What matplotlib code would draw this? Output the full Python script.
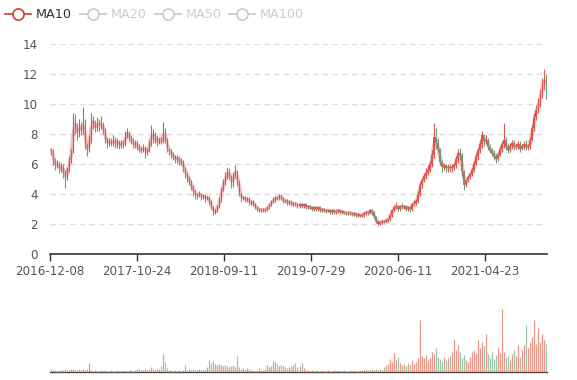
import numpy as np
import pandas as pd
import matplotlib
matplotlib.use("Agg")
import matplotlib.pyplot as plt
from matplotlib.lines import Line2D

# weekly candles (one per 5 trading days)
close = [6.9, 6.2, 5.9, 6.0, 5.7, 5.8, 5.5, 5.0, 5.6, 6.3,
         6.8, 8.9, 8.4, 8.0, 8.6, 8.2, 8.9, 7.2, 6.9, 7.6,
         9.0, 8.6, 8.4, 8.8, 8.5, 8.7, 8.3, 7.6, 7.4, 7.5,
         7.4, 7.6, 7.3, 7.5, 7.2, 7.4, 7.3, 7.9, 8.1, 7.7,
         7.5, 7.3, 7.4, 7.1, 7.0, 6.9, 7.1, 6.8, 6.9, 7.4,
         8.2, 7.6, 7.8, 7.4, 7.6, 7.5, 8.3, 7.6, 7.0, 6.9,
         6.6, 6.5, 6.3, 6.4, 6.1, 6.2, 5.7, 5.4, 5.1, 4.8,
         4.5, 4.2, 4.0, 3.9, 4.0, 3.8, 3.9, 3.7, 3.8, 3.5,
         3.1, 2.8, 2.9, 3.2, 3.6, 4.3, 4.8, 5.1, 5.5, 5.2,
         4.6, 5.3, 5.5, 4.8, 4.0, 3.7, 3.8, 3.6, 3.7, 3.4,
         3.5, 3.3, 3.1, 3.0, 2.9, 3.0, 2.9, 3.0, 3.1, 3.3,
         3.5, 3.6, 3.8, 3.7, 3.9, 3.7, 3.5, 3.6, 3.4, 3.5,
         3.3, 3.4, 3.3, 3.2, 3.3, 3.2, 3.3, 3.1, 3.2, 3.1,
         3.0, 3.1, 3.0, 3.1, 2.9, 3.0, 2.9, 2.85, 2.9, 2.8,
         2.9, 2.8, 2.85, 2.9, 2.8, 2.85, 2.75, 2.7, 2.75, 2.7,
         2.65, 2.7, 2.6, 2.65, 2.55, 2.6, 2.7, 2.8, 2.75, 2.9,
         2.8, 2.5, 2.2, 2.0, 2.1, 2.2, 2.15, 2.25, 2.3, 2.6,
         2.9, 3.1, 3.2, 3.0, 3.2, 3.1, 3.2, 3.0, 3.1, 3.0,
         3.3, 3.4, 3.5, 4.0, 4.6, 4.9, 5.2, 5.4, 5.6, 6.0,
         6.6, 7.8, 7.4, 7.0, 6.1, 5.8, 5.9, 5.7, 5.8, 5.7,
         5.8, 5.9, 6.3, 6.7, 6.6, 5.5, 4.6, 4.9, 5.1, 5.3,
         5.6, 6.0, 6.5, 6.9, 7.3, 7.9, 7.5, 7.6, 7.1, 6.9,
         6.7, 6.5, 6.3, 6.6, 7.0, 7.3, 7.6, 7.1, 6.9, 7.2,
         7.4, 7.1, 7.2, 7.3, 7.0, 7.2, 7.3, 7.1, 7.2, 7.6,
         8.4, 9.1, 9.6, 10.0, 10.6, 11.2, 11.8, 11.2]

high = [7.1, 7.0, 6.4, 6.3, 6.2, 6.1, 6.0, 5.6, 5.8, 6.5,
        7.0, 9.4, 9.3, 8.7, 9.0, 8.8, 9.8, 9.0, 7.4, 7.9,
        9.4, 9.2, 8.9, 9.1, 9.0, 9.2, 8.8, 8.4, 7.8, 7.7,
        7.7, 7.9, 7.8, 7.7, 7.6, 7.6, 7.6, 8.2, 8.4, 8.2,
        7.9, 7.7, 7.6, 7.6, 7.3, 7.2, 7.3, 7.2, 7.1, 7.6,
        8.6, 8.3, 8.1, 7.9, 7.8, 7.8, 8.8, 8.4, 7.7, 7.1,
        7.0, 6.8, 6.6, 6.6, 6.5, 6.4, 6.3, 5.8, 5.5, 5.2,
        4.9, 4.6, 4.3, 4.1, 4.2, 4.1, 4.0, 4.0, 3.9, 3.9,
        3.6, 3.2, 3.0, 3.3, 3.8, 4.5, 5.0, 5.5, 5.8, 5.7,
        5.3, 5.5, 5.9, 5.6, 4.9, 4.1, 3.9, 3.9, 3.8, 3.8,
        3.6, 3.6, 3.4, 3.2, 3.1, 3.1, 3.1, 3.1, 3.2, 3.4,
        3.6, 3.8, 3.9, 3.9, 4.0, 4.0, 3.8, 3.7, 3.7, 3.6,
        3.6, 3.5, 3.5, 3.4, 3.4, 3.4, 3.4, 3.4, 3.3, 3.3,
        3.2, 3.2, 3.2, 3.2, 3.2, 3.1, 3.1, 3.0, 3.0, 3.0,
        3.0, 3.0, 2.95, 3.0, 3.0, 2.95, 2.9, 2.85, 2.85, 2.85,
        2.8, 2.8, 2.75, 2.75, 2.7, 2.7, 2.8, 2.9, 2.9, 3.0,
        3.0, 2.85, 2.55, 2.25, 2.2, 2.3, 2.3, 2.35, 2.4, 2.7,
        3.0, 3.3, 3.5, 3.3, 3.3, 3.4, 3.3, 3.3, 3.2, 3.2,
        3.4, 3.6, 3.7, 4.2, 4.8, 5.1, 5.4, 5.7, 5.9, 6.2,
        6.9, 8.7, 8.4, 7.7, 7.1, 6.3, 6.1, 6.0, 6.0, 6.0,
        6.0, 6.1, 6.5, 7.0, 7.1, 6.7, 5.6, 5.0, 5.3, 5.5,
        5.8, 6.2, 6.7, 7.1, 7.6, 8.2, 8.0, 7.9, 7.7, 7.3,
        7.1, 6.9, 6.7, 6.8, 7.2, 7.5, 8.7, 7.8, 7.3, 7.4,
        7.6, 7.6, 7.4, 7.5, 7.5, 7.3, 7.5, 7.6, 7.3, 7.8,
        8.6, 9.4, 9.9, 10.4, 11.0, 11.7, 12.3, 12.0]

low = [6.6, 5.9, 5.6, 5.7, 5.4, 5.5, 5.1, 4.4, 4.9, 5.5,
       6.1, 6.7, 8.0, 7.6, 7.8, 7.9, 8.0, 7.0, 6.5, 6.8,
       7.4, 8.3, 8.1, 8.2, 8.2, 8.3, 8.0, 7.4, 7.1, 7.2,
       7.2, 7.2, 7.1, 7.1, 7.0, 7.1, 7.1, 7.2, 7.7, 7.5,
       7.3, 7.1, 7.1, 6.9, 6.8, 6.7, 6.8, 6.4, 6.6, 6.8,
       7.2, 7.4, 7.4, 7.2, 7.3, 7.3, 7.4, 7.4, 6.8, 6.6,
       6.4, 6.3, 6.1, 6.1, 5.9, 5.9, 5.5, 5.1, 4.8, 4.6,
       4.3, 3.9, 3.7, 3.7, 3.8, 3.6, 3.7, 3.5, 3.6, 3.3,
       3.0, 2.6, 2.7, 2.8, 3.1, 3.5, 4.2, 4.6, 5.0, 5.0,
       4.4, 4.5, 5.1, 4.6, 3.9, 3.5, 3.6, 3.5, 3.5, 3.3,
       3.3, 3.2, 3.0, 2.9, 2.8, 2.8, 2.8, 2.8, 2.9, 3.0,
       3.2, 3.4, 3.5, 3.6, 3.6, 3.6, 3.4, 3.4, 3.3, 3.3,
       3.2, 3.2, 3.2, 3.1, 3.1, 3.1, 3.1, 3.0, 3.0, 3.0,
       2.9, 2.9, 2.9, 2.9, 2.8, 2.8, 2.8, 2.75, 2.8, 2.7,
       2.7, 2.7, 2.7, 2.75, 2.7, 2.7, 2.65, 2.6, 2.6, 2.6,
       2.55, 2.55, 2.5, 2.5, 2.45, 2.45, 2.5, 2.6, 2.6, 2.65,
       2.6, 2.4, 2.1, 1.85, 1.95, 2.0, 2.05, 2.1, 2.15, 2.2,
       2.5, 2.8, 3.0, 2.9, 2.9, 3.0, 3.0, 2.9, 2.9, 2.8,
       2.9, 3.2, 3.3, 3.4, 3.9, 4.4, 4.8, 5.0, 5.3, 5.5,
       5.8, 6.4, 7.0, 6.8, 5.9, 5.5, 5.6, 5.5, 5.5, 5.5,
       5.5, 5.6, 5.7, 6.1, 6.3, 5.2, 4.3, 4.5, 4.8, 5.0,
       5.2, 5.5, 5.9, 6.3, 6.7, 7.1, 7.2, 7.3, 6.9, 6.7,
       6.5, 6.3, 6.1, 6.2, 6.5, 6.8, 7.1, 6.9, 6.7, 6.8,
       7.0, 6.9, 7.0, 7.0, 6.8, 6.9, 7.0, 6.9, 6.9, 7.0,
       7.5, 8.2, 8.9, 9.4, 9.8, 10.4, 10.9, 10.3]

volume = [3, 2, 2, 1, 2, 2, 2, 3, 2, 2,
          3, 3, 2, 2, 3, 2, 3, 2, 3, 9,
          2, 1, 2, 1, 1, 2, 1, 2, 1, 1,
          2, 1, 1, 2, 1, 1, 2, 1, 1, 2,
          2, 1, 2, 3, 3, 2, 2, 3, 2, 3,
          5, 3, 2, 4, 3, 6, 18, 10, 4, 2,
          2, 1, 2, 1, 2, 1, 2, 7, 2, 3,
          2, 3, 2, 2, 3, 2, 2, 3, 5, 12,
          9, 11, 8, 7, 8, 7, 6, 7, 6, 5,
          6, 7, 5, 16, 5, 3, 4, 3, 4, 3,
          2, 2, 1, 2, 4, 2, 2, 3, 7, 5,
          6, 11, 10, 8, 6, 7, 6, 5, 4, 5,
          6, 7, 9, 5, 6, 9, 4, 2, 2, 1,
          2, 1, 2, 1, 1, 2, 1, 1, 2, 1,
          1, 2, 1, 2, 1, 1, 2, 1, 1, 2,
          1, 2, 1, 1, 2, 2, 2, 3, 2, 2,
          3, 2, 3, 2, 3, 2, 5, 7, 8, 13,
          10, 19, 12, 15, 9, 7, 8, 6, 9, 7,
          12, 8, 10, 14, 52, 16, 14, 17, 12, 14,
          20, 18, 24, 15, 13, 11, 15, 12, 14, 16,
          20, 33, 22, 27, 20, 14, 17, 12, 10, 15,
          20, 22, 18, 32, 24, 30, 26, 38, 18, 14,
          20, 13, 17, 25, 19, 63, 20, 14, 16, 12,
          18, 22, 16, 27, 15, 22, 27, 47, 24, 30,
          35, 52, 28, 45, 30, 38, 32, 28]

tick_labels = ["2016-12-08", "2017-10-24", "2018-09-11",
               "2019-07-29", "2020-06-11", "2021-04-23"]
tick_index = [0, 217, 434, 651, 868, 1085]
n_days = 1240
legend_names = ["MA10", "MA20", "MA50", "MA100"]

up_color = "#e0453a"
down_color = "#4f9e6c"

df = pd.DataFrame({"close": close, "high": high, "low": low, "volume": volume})
df["open"] = df["close"].shift(1).fillna(7.0)
df["x"] = np.arange(len(df)) * 5 + 2
df["ma"] = df["close"].rolling(2, min_periods=1).mean()  # ~10 trading days
rising = df["close"] >= df["open"]
colors = np.where(rising, up_color, down_color)

fig = plt.figure(figsize=(5.77, 3.80), dpi=100)
ax = fig.add_axes([50 / 577, 1 - 254 / 380, 497 / 577, 210 / 380])
vax = fig.add_axes([50 / 577, 1 - 372 / 380, 497 / 577, 82 / 380])

# candles
ax.vlines(df["x"], df["low"], df["high"], colors=colors, lw=0.8, alpha=0.9, zorder=3)
body_bottom = np.minimum(df["open"], df["close"])
body_h = np.maximum(np.abs(df["close"] - df["open"]), 0.05)
ax.bar(df["x"], body_h, bottom=body_bottom, width=2.4, color=colors,
       alpha=0.9, linewidth=0, zorder=3)
ax.plot(df["x"], df["ma"], color="#e05555", lw=2.6, alpha=0.4, zorder=4,
        solid_joinstyle="round")

ax.set_xlim(-0.5, n_days - 0.5)
ax.set_ylim(0, 14)
ax.set_yticks(range(0, 15, 2))
ax.yaxis.grid(True, color="#dddddd", ls=(0, (4, 3)), lw=1)
ax.set_axisbelow(True)
for s in ["top", "right", "left"]:
    ax.spines[s].set_visible(False)
ax.spines["bottom"].set_color("#333333")
ax.spines["bottom"].set_linewidth(1.2)
ax.set_xticks([i - 0.5 for i in tick_index])
ax.set_xticklabels(tick_labels)
ax.tick_params(axis="x", length=5, width=1, color="#333333", labelsize=8.6,
               labelcolor="#555555", pad=3)
ax.tick_params(axis="y", length=0, labelsize=8.6, labelcolor="#555555", pad=9)

# volume
vcolors = np.where(rising, "#e46a58", "#6fae88")
vax.vlines(df["x"], 0, df["volume"], colors=vcolors, lw=0.9, alpha=0.7)
vax.set_xlim(-0.5, n_days - 0.5)
vax.set_ylim(0, 82)
vax.set_xticks([])
vax.set_yticks([])
for s in ["top", "right", "left"]:
    vax.spines[s].set_visible(False)
vax.spines["bottom"].set_color("#5a4a40")
vax.spines["bottom"].set_linewidth(1)

# legend, in pixel coordinates of the figure
lax = fig.add_axes([0, 0, 1, 1], facecolor="none")
lax.set_xlim(0, 577)
lax.set_ylim(380, 0)
lax.axis("off")
legend_x = [5, 80, 155, 229]
for k, name in enumerate(legend_names):
    c = "#d14a3a" if k == 0 else "#cccccc"
    tc = "#333333" if k == 0 else "#cccccc"
    x0 = legend_x[k]
    lax.add_line(Line2D([x0, x0 + 26], [14, 14], color=c, lw=1.3))
    lax.plot(x0 + 13, 14, "o", ms=8, mfc="white", mec=c, mew=1.3)
    lax.text(x0 + 31, 14.5, name, color=tc, fontsize=9.2, va="center", ha="left")

fig.savefig("out.png", dpi=100)
